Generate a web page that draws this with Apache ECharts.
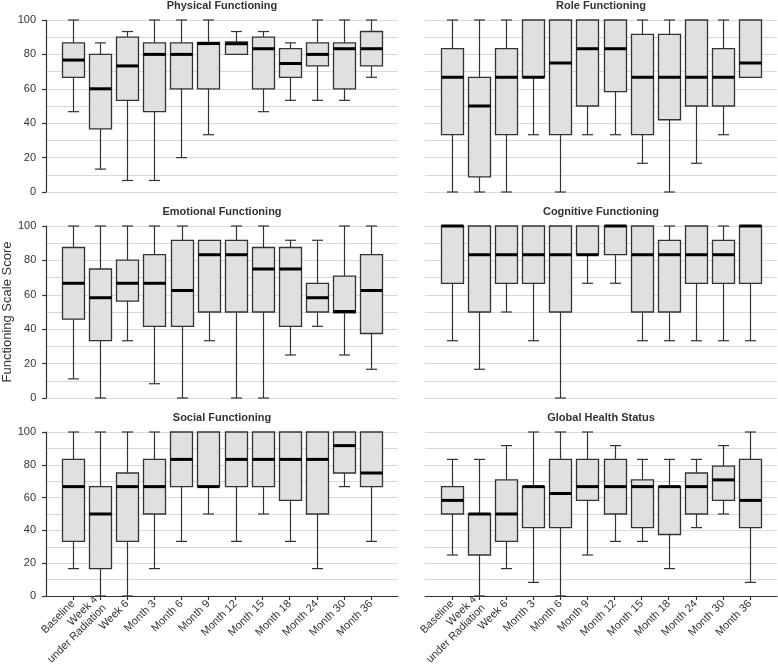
<!DOCTYPE html>
<html>
<head>
<meta charset="utf-8">
<script src="https://cdn.jsdelivr.net/npm/echarts@6/dist/echarts.min.js"></script>
<style>
html, body { margin: 0; padding: 0; background: #fff; }
#chart { width: 778px; height: 669px; }
</style>
</head>
<body>
<div id="chart"></div>
<script>
// ---- data: [min, Q1, median, Q3, max] per time point ----
var categories = ['Baseline', 'Week 4\nunder Radiation', 'Week 6', 'Month 3', 'Month 6', 'Month 9',
  'Month 12', 'Month 15', 'Month 18', 'Month 24', 'Month 30', 'Month 36'];

var panelTitles = ['Physical Functioning', 'Role Functioning', 'Emotional Functioning',
  'Cognitive Functioning', 'Social Functioning', 'Global Health Status'];

var yTickLabels = [0, 20, 40, 60, 80, 100];

var physical = [
  [46.7, 66.7, 76.7, 86.7, 100],
  [13.3, 36.7, 60, 80, 86.7],
  [6.7, 53.3, 73.3, 90, 93.3],
  [6.7, 46.7, 80, 86.7, 100],
  [20, 60, 80, 86.7, 100],
  [33.3, 60, 86.3, 87, 100],
  [80, 80, 86.2, 87.2, 93.3],
  [46.7, 60, 83.3, 90, 93.3],
  [53.3, 66.7, 74.7, 83.3, 86.7],
  [53.3, 73.3, 80, 86.7, 100],
  [53.3, 60, 83.3, 86.7, 100],
  [66.7, 73.3, 83.3, 93.3, 100]
];

var role = [
  [0, 33.3, 66.7, 83.3, 100],
  [0, 8.8, 50, 66.7, 100],
  [0, 33.3, 66.7, 83.3, 100],
  [33.3, 66.7, 66.7, 100, 100],
  [0, 33.3, 75, 100, 100],
  [33.3, 50, 83.3, 100, 100],
  [33.3, 58.3, 83.3, 100, 100],
  [16.7, 33.3, 66.7, 91.7, 100],
  [0, 42, 66.7, 91.7, 100],
  [16.7, 50, 66.7, 100, 100],
  [33.3, 50, 66.7, 83.3, 100],
  [66.7, 66.7, 75, 100, 100]
];

var emotional = [
  [11.1, 45.8, 66.7, 87.5, 100],
  [0, 33.3, 58.3, 75, 100],
  [33.3, 56.3, 66.7, 80.2, 100],
  [8.3, 41.7, 66.7, 83.3, 100],
  [0, 41.7, 62.5, 91.7, 100],
  [33.3, 50, 83.3, 91.7, 91.7],
  [0, 50, 83.3, 91.7, 100],
  [0, 50, 75, 87.5, 100],
  [25, 41.7, 75, 87.5, 91.7],
  [41.7, 50, 58.3, 66.7, 91.7],
  [25, 49.5, 50.3, 70.8, 100],
  [16.7, 37.5, 62.5, 83.3, 100]
];

var cognitive = [
  [33.3, 66.7, 100, 100, 100],
  [16.7, 50, 83.3, 100, 100],
  [50, 66.7, 83.3, 100, 100],
  [33.3, 66.7, 83.3, 100, 100],
  [0, 50, 83.3, 100, 100],
  [66.7, 83.3, 83.3, 100, 100],
  [66.7, 83.3, 100, 100, 100],
  [33.3, 50, 83.3, 100, 100],
  [33.3, 50, 83.3, 91.7, 100],
  [33.3, 66.7, 83.3, 100, 100],
  [33.3, 66.7, 83.3, 91.7, 100],
  [33.3, 66.7, 100, 100, 100]
];

var social = [
  [16.7, 33.3, 66.7, 83.3, 100],
  [0, 16.7, 50, 66.7, 100],
  [0, 33.3, 66.7, 75, 100],
  [16.7, 50, 66.7, 83.3, 100],
  [33.3, 66.7, 83.3, 100, 100],
  [50, 66.7, 66.7, 100, 100],
  [33.3, 66.7, 83.3, 100, 100],
  [50, 66.7, 83.3, 100, 100],
  [33.3, 58.3, 83.3, 100, 100],
  [16.7, 50, 83.3, 100, 100],
  [66.7, 75, 91.7, 100, 100],
  [33.3, 66.7, 75, 100, 100]
];

var globalHealth = [
  [25, 50, 58.3, 66.7, 83.3],
  [0, 25, 50, 50, 83.3],
  [16.7, 33.3, 50, 70.8, 91.7],
  [8.3, 41.7, 66.7, 66.7, 100],
  [0, 41.7, 62.5, 83.3, 100],
  [25, 58.3, 66.7, 83.3, 100],
  [33.3, 50, 66.7, 83.3, 91.7],
  [33.3, 41.7, 66.7, 70.8, 83.3],
  [16.7, 37.5, 66.7, 66.7, 83.3],
  [41.7, 50, 66.7, 75, 83.3],
  [50, 58.3, 70.8, 79.2, 91.7],
  [8.3, 41.7, 58.3, 83.3, 100]
];

var panels = [physical, role, emotional, cognitive, social, globalHealth];

// ---- layout ----
var FONT = '"Liberation Sans", Arial, sans-serif';
var TXT = '#333';
var GRIDC = '#d9d9d9';
var colLeft = [46, 425];
var rowTop = [20, 226, 432];
var rowH = [172, 172, 164];
var plotW = 352;
var catTicks = categories.map(function (c, i) { return i + 1; });

function renderBox(params, api) {
  var x = api.value(0);
  var lo = api.coord([x, api.value(1)]);
  var q1 = api.coord([x, api.value(2)]);
  var md = api.coord([x, api.value(3)]);
  var q3 = api.coord([x, api.value(4)]);
  var hi = api.coord([x, api.value(5)]);
  var cx = Math.round(lo[0]) + 0.5;
  var half = 11, cap = 5.5;
  var ls = { stroke: '#333', lineWidth: 1.2 };
  var children = [];
  if (hi[1] < q3[1] - 0.5) {
    children.push({ type: 'line', shape: { x1: cx, y1: hi[1], x2: cx, y2: q3[1] }, style: ls });
    children.push({ type: 'line', shape: { x1: cx - cap, y1: hi[1], x2: cx + cap, y2: hi[1] }, style: ls });
  }
  if (lo[1] > q1[1] + 0.5) {
    children.push({ type: 'line', shape: { x1: cx, y1: q1[1], x2: cx, y2: lo[1] }, style: ls });
    children.push({ type: 'line', shape: { x1: cx - cap, y1: lo[1], x2: cx + cap, y2: lo[1] }, style: ls });
  }
  children.push({
    type: 'rect',
    shape: { x: cx - half, y: q3[1], width: half * 2, height: Math.max(q1[1] - q3[1], 0.5) },
    style: { fill: '#e0e0e0', stroke: '#333', lineWidth: 1.3 }
  });
  children.push({
    type: 'line',
    shape: { x1: cx - half, y1: md[1], x2: cx + half, y2: md[1] },
    style: { stroke: '#000', lineWidth: 3 }
  });
  return { type: 'group', children: children };
}

var grids = [], xAxes = [], yAxes = [], series = [], titles = [];
panels.forEach(function (vals, i) {
  var col = i % 2, row = Math.floor(i / 2);
  var isLeft = col === 0, isBottom = row === 2;
  grids.push({ left: colLeft[col], top: rowTop[row], width: plotW, height: rowH[row] });
  titles.push({
    text: panelTitles[i],
    left: colLeft[col] + plotW / 2,
    top: rowTop[row] - 20,
    textAlign: 'center',
    padding: 0,
    textStyle: { fontFamily: FONT, fontSize: 11, fontWeight: 'bold', color: TXT }
  });
  xAxes.push({
    type: 'value', gridIndex: i, min: 0, max: 13, interval: 1,
    axisLine: { show: isBottom, onZero: false, lineStyle: { color: '#333', width: 1.2 } },
    axisTick: { show: isBottom, customValues: catTicks, length: 4, lineStyle: { color: '#333', width: 1.2 } },
    axisLabel: {
      show: isBottom, customValues: catTicks, rotate: 45, margin: 6,
      fontFamily: FONT, fontSize: 11, color: TXT, lineHeight: 12,
      formatter: function (v) { return categories[v - 1] || ''; }
    },
    splitLine: { show: false }
  });
  var ya = {
    type: 'value', gridIndex: i, min: 0, max: 100, interval: 20,
    axisLine: { show: isLeft, lineStyle: { color: '#333', width: 1.2 } },
    axisTick: { show: isLeft, length: 4, lineStyle: { color: '#333', width: 1.2 } },
    axisLabel: { show: isLeft, margin: 10, fontFamily: FONT, fontSize: 11, color: TXT },
    splitLine: { show: true, lineStyle: { color: GRIDC, width: 1 } },
    minorTick: { show: false, splitNumber: 2 },
    minorSplitLine: { show: true, lineStyle: { color: GRIDC, width: 1 } }
  };
  if (i === 2) {
    ya.name = 'Functioning Scale Score';
    ya.nameLocation = 'middle';
    ya.nameGap = 30;
    ya.nameTextStyle = { fontFamily: FONT, fontSize: 13, color: TXT };
  }
  yAxes.push(ya);
  series.push({
    type: 'custom', xAxisIndex: i, yAxisIndex: i,
    renderItem: renderBox,
    encode: { x: 0, y: [1, 2, 3, 4, 5] },
    data: vals.map(function (d, k) { return [k + 1].concat(d); }),
    silent: true
  });
});

var chart = echarts.init(document.getElementById('chart'), null, { renderer: 'canvas' });
chart.setOption({
  animation: false,
  backgroundColor: '#fff',
  title: titles,
  grid: grids,
  xAxis: xAxes,
  yAxis: yAxes,
  series: series
});
</script>
</body>
</html>
